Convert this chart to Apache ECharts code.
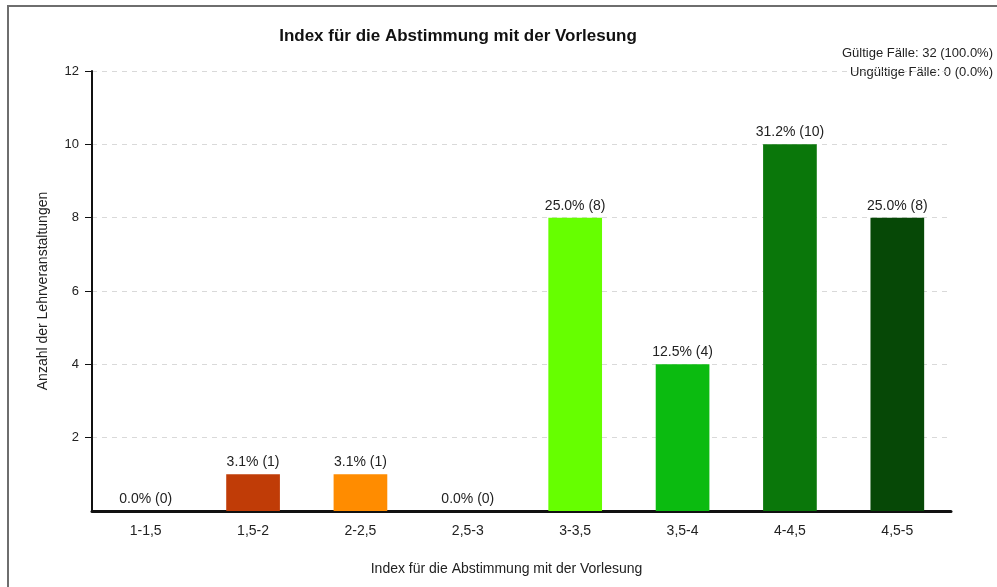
<!DOCTYPE html>
<html>
<head>
<meta charset="utf-8">
<script src="https://cdn.jsdelivr.net/npm/echarts@6/dist/echarts.min.js"></script>
<style>
  html, body { margin: 0; padding: 0; background: #fff; }
  #chart { width: 997px; height: 587px; }
</style>
</head>
<body>
<div id="chart"></div>
<script>
// categories / values
const categories = ["1-1,5", "1,5-2", "2-2,5", "2,5-3", "3-3,5", "3,5-4", "4-4,5", "4,5-5"];
const counts = [0, 1, 1, 0, 8, 4, 10, 8];
const percents = ["0.0%", "3.1%", "3.1%", "0.0%", "25.0%", "12.5%", "31.2%", "25.0%"];
const barColors = ["#cc1a00", "#c03c07", "#ff8c00", "#ffd000", "#66ff00", "#0bbb10", "#0a770a", "#064806"];
const yTicks = [0, 2, 4, 6, 8, 10, 12];
const caseLines = ["Gültige Fälle: 32 (100.0%)", "Ungültige Fälle: 0 (0.0%)"];

const chart = echarts.init(document.getElementById("chart"));
const font = "Liberation Sans, Arial, sans-serif";

const option = {
  animation: false,
  textStyle: { fontFamily: font },
  title: {
    text: "Index für die Abstimmung mit der Vorlesung",
    left: 453,
    textAlign: "center",
    top: 23,
    textStyle: { fontSize: 17, fontWeight: "bold", color: "#111", fontFamily: font },
  },
  graphic: [
    {
      type: "polyline",
      shape: { points: [[8, 587], [8, 6], [997, 6]] },
      style: { stroke: "#6e6e6e", lineWidth: 2, fill: null },
    },
    {
      type: "text",
      right: 4,
      top: 47,
      style: { text: caseLines[0], fontSize: 13, fontFamily: font, fill: "#222" },
    },
    {
      type: "text",
      right: 4,
      top: 66,
      style: { text: caseLines[1], fontSize: 13, fontFamily: font, fill: "#222" },
    },
  ],
  grid: { left: 92, right: 46, top: 71, bottom: 76 },
  xAxis: {
    type: "category",
    data: categories,
    name: "Index für die Abstimmung mit der Vorlesung",
    nameLocation: "middle",
    nameGap: 51,
    nameTextStyle: { fontSize: 14, color: "#222", padding: [0, 30, 0, 0] },
    axisLine: { lineStyle: { color: "#111", width: 3 } },
    axisTick: { alignWithLabel: true, length: 7, lineStyle: { color: "#111", width: 1 } },
    axisLabel: { fontSize: 14, color: "#222", margin: 13 },
  },
  yAxis: {
    type: "value",
    min: yTicks[0],
    max: yTicks[yTicks.length - 1],
    interval: 2,
    name: "Anzahl der Lehrveranstaltungen",
    nameLocation: "middle",
    nameGap: 42,
    nameTextStyle: { fontSize: 14, color: "#222" },
    axisLine: { show: true, lineStyle: { color: "#111", width: 2 } },
    axisTick: { show: true, length: 7, lineStyle: { color: "#111" } },
    axisLabel: { fontSize: 13, color: "#222", margin: 13, showMinLabel: false },
    splitLine: { show: true, lineStyle: { color: "#d9d9d9", type: [5, 5] } },
  },
  series: [
    {
      type: "bar",
      barWidth: "50%",
      data: counts.map((v, i) => ({ value: v, itemStyle: { color: barColors[i] } })),
      label: {
        show: true,
        position: "top",
        distance: 5,
        fontSize: 14,
        color: "#222",
        formatter: (p) => percents[p.dataIndex] + " (" + counts[p.dataIndex] + ")",
      },
    },
  ],
};

chart.setOption(option);
</script>
</body>
</html>
